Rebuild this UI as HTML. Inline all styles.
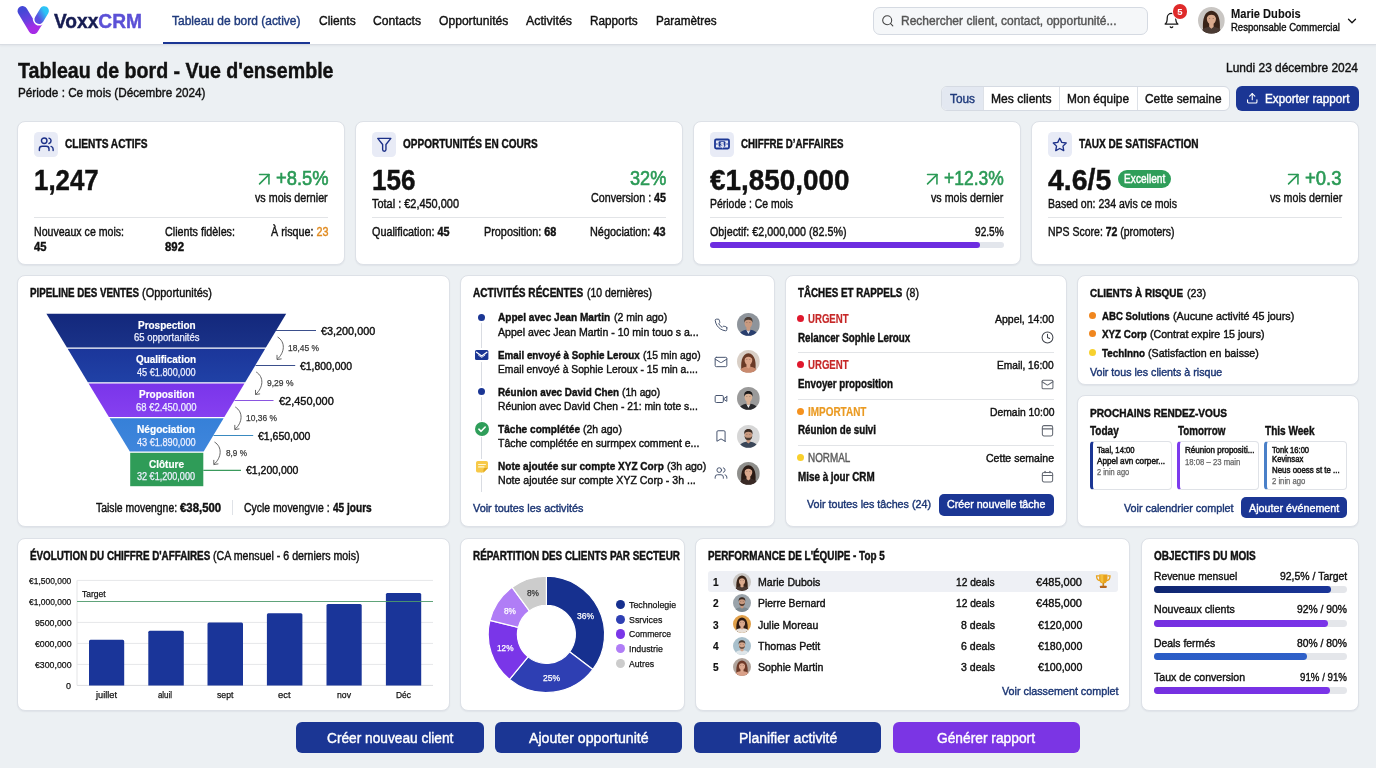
<!DOCTYPE html>
<html lang="fr">
<head>
<meta charset="utf-8">
<title>VoxxCRM - Tableau de bord</title>
<meta name="viewport" content="width=1376">
<style>
*{box-sizing:border-box;margin:0;padding:0}
html,body{width:1376px;height:768px;overflow:hidden}
body{position:relative;background:#ecf0f3;font-family:"Liberation Sans",Arial,Helvetica,sans-serif;color:#111;-webkit-font-smoothing:antialiased}
.b,.t,.card,.sec,header,nav,main,section,footer,.btn,.row{position:absolute}
.t{white-space:nowrap;line-height:1;transform-origin:0 0;display:block;font-weight:400;-webkit-text-stroke:.42px currentColor}
.t b{font-weight:700}
.card{background:#fff;border:1px solid #dde1e7;border-radius:8px;box-shadow:0 1px 1.500px rgba(30,40,70,.06)}
.btn{border-radius:6px;background:#1b3694}
svg{display:block;overflow:visible}
a{color:inherit;text-decoration:none}
</style>
</head>
<body>
<header class="" style="left:0px;top:0px;width:1376px;height:45px;background:#fff;border-bottom:1px solid #d9dde3;box-shadow:0 1px 2px rgba(30,40,70,.06);">
<svg class="b" style="left:16.8px;top:4.9px;" width="34.3" height="31.2" viewBox="0 0 33 30"><defs><linearGradient id="lg1" x1="0" y1="0" x2="0.35" y2="1"><stop offset="0" stop-color="#4547d6"/><stop offset="0.55" stop-color="#6a3fe0"/><stop offset="1" stop-color="#a52be6"/></linearGradient><linearGradient id="lg2" x1="1" y1="0" x2="0" y2="1"><stop offset="0" stop-color="#2cc4f6"/><stop offset="1" stop-color="#5a4fe0"/></linearGradient></defs><path d="M5.300 5.800 L15.800 23.200 L21.500 14" fill="none" stroke="url(#lg1)" stroke-width="9.600" stroke-linecap="round" stroke-linejoin="round"/><path d="M26.200 5.600 L21.300 13.800" fill="none" stroke="#fff" stroke-width="12" stroke-linecap="round"/><path d="M26.200 5.600 L21.300 13.800" fill="none" stroke="url(#lg2)" stroke-width="9" stroke-linecap="round"/></svg>
<div class="t" id="t1" style="left:54.2px;top:10.5px;transform:scaleX(0.9578);font-size:20px;font-weight:700;"><b style="color:#161c52;">Voxx</b><b style="color:#5b50d6;">CRM</b></div>
<nav class="" style="left:160px;top:0px;width:570px;height:44px;">
<a class="t" id="t2" style="left:12px;top:14.2px;transform:scaleX(0.9213);font-size:13px;color:#1f3a7c;">Tableau de bord (active)</a>
<a class="t" id="t3" style="left:158.8px;top:14.2px;transform:scaleX(0.9233);font-size:13px;">Clients</a>
<a class="t" id="t4" style="left:213px;top:14.2px;transform:scaleX(0.9354);font-size:13px;">Contacts</a>
<a class="t" id="t5" style="left:279px;top:14.2px;transform:scaleX(0.931);font-size:13px;">Opportunités</a>
<a class="t" id="t6" style="left:366.3px;top:14.2px;transform:scaleX(0.9503);font-size:13px;">Activités</a>
<a class="t" id="t7" style="left:430.3px;top:14.2px;transform:scaleX(0.9043);font-size:13px;">Rapports</a>
<a class="t" id="t8" style="left:496px;top:14.2px;transform:scaleX(0.9003);font-size:13px;">Paramètres</a>
<div class="b" style="left:3px;top:42px;width:147px;height:2px;background:#1b3694;"></div>
</nav>
<div class="b" style="left:873px;top:7px;width:274.5px;height:27.5px;background:#f5f7f9;border:1px solid #d5dae2;border-radius:7px;">
<svg class="b" style="left:6.85px;top:5.55px;" width="13.5" height="13.5" viewBox="0 0 24 24"><g fill="none" stroke="#444" stroke-width="1.9" stroke-linecap="round" stroke-linejoin="round"><circle cx="11" cy="11" r="8"/><path d="m21 21-4.3-4.3"/></g></svg>
<span class="t" id="t9" style="left:27px;top:6px;transform:scaleX(0.9233);font-size:13px;color:#555;">Rechercher client, contact, opportunité...</span>
</div>
<svg class="b" style="left:1162.9px;top:12.1px;" width="17" height="17" viewBox="0 0 24 24"><g fill="none" stroke="#1a1a1a" stroke-width="1.8" stroke-linecap="round" stroke-linejoin="round"><path d="M6 8a6 6 0 0 1 12 0c0 7 3 9 3 9H3s3-2 3-9"/><path d="M10.3 21a1.94 1.94 0 0 0 3.4 0"/></g></svg>
<div class="b" style="left:1172.6px;top:3.9px;width:14.8px;height:14.8px;background:#df2a2a;border-radius:50%;box-shadow:0 0 0 1px #fff;"></div>
<span class="t" id="t10" style="left:1177.35px;top:6.8px;font-size:9.5px;font-weight:700;color:#fff;-webkit-text-stroke:0;">5</span>
<svg class="b" style="left:1197.6px;top:7px;" width="26.8" height="26.8" viewBox="0 0 24 24"><defs><clipPath id="ch"><circle cx="12" cy="12" r="12"/></clipPath><radialGradient id="gh" cx="0.5" cy="0.4" r="0.7"><stop offset="0" stop-color="#c9c6c3"/><stop offset="1" stop-color="#c9c6c3"/></radialGradient></defs><g clip-path="url(#ch)"><rect width="24" height="24" fill="url(#gh)"/><path d="M4.800 23C3.600 14 4.600 4 12 3.400C19.400 4 20.400 14 19.200 23Z" fill="#3a2418"/><path d="M2 25c0-5.500 4.500-7.400 10-7.400s10 1.900 10 7.400z" fill="#4a3a33"/><path d="M10 14.500h4v3.300l-2 1.700-2-1.700z" fill="#d9a98c"/><ellipse cx="12" cy="10.600" rx="4.100" ry="5.100" fill="#d9a98c"/><path d="M7.500 11C7.300 6.500 9.200 4.800 12 4.800S16.700 6.500 16.500 11C16 8.200 14.300 7 12 7S8 8.200 7.500 11Z" fill="#3a2418"/><ellipse cx="10.400" cy="10.200" rx="0.550" ry="0.400" fill="#3a2a24" opacity="0.700"/><ellipse cx="13.600" cy="10.200" rx="0.550" ry="0.400" fill="#3a2a24" opacity="0.700"/></g></svg>
<span class="t" id="t11" style="left:1231.3px;top:6.8px;transform:scaleX(0.8539);font-size:13px;font-weight:700;-webkit-text-stroke:.1px currentColor;">Marie Dubois</span>
<span class="t" id="t12" style="left:1231.3px;top:21.8px;transform:scaleX(0.8646);font-size:11px;">Responsable Commercial</span>
<svg class="b" style="left:1344.8px;top:13.5px;" width="14" height="14" viewBox="0 0 24 24"><g fill="none" stroke="#111" stroke-width="2.2" stroke-linecap="round" stroke-linejoin="round"><path d="m6 9 6 6 6-6"/></g></svg>
</header>
<main class="" style="left:0px;top:45px;width:1376px;height:671px;">
<section class="sec" style="left:0px;top:0px;width:1376px;height:77px;">
<h1 class="t" id="t13" style="left:17.5px;top:15.5px;transform:scaleX(0.9129);font-size:21.5px;font-weight:700;">Tableau de bord - Vue d'ensemble</h1>
<span class="t" id="t14" style="left:17.5px;top:40.8px;transform:scaleX(0.901);font-size:13px;">Période : Ce mois (Décembre 2024)</span>
<span class="t" id="t15" style="left:1226.2px;top:16px;transform:scaleX(0.9177);font-size:13px;">Lundi 23 décembre 2024</span>
<div class="b" style="left:941px;top:41px;width:289px;height:24.5px;background:#fff;border:1px solid #d5dae2;border-radius:6px;overflow:hidden;">
<div class="b" style="left:-1px;top:-1px;width:42.5px;height:24.5px;background:#e3e8f1;"></div>
<div class="b" style="left:41px;top:-1px;width:1px;height:24.5px;background:#dde1e7;"></div>
<div class="b" style="left:116.5px;top:-1px;width:1px;height:24.5px;background:#dde1e7;"></div>
<div class="b" style="left:194.5px;top:-1px;width:1px;height:24.5px;background:#dde1e7;"></div>
<span class="t" id="t16" style="left:8px;top:5px;transform:scaleX(0.9101);font-size:13px;color:#1f3a7c;">Tous</span>
<span class="t" id="t17" style="left:49px;top:5px;transform:scaleX(0.9303);font-size:13px;">Mes clients</span>
<span class="t" id="t18" style="left:125px;top:5px;transform:scaleX(0.9124);font-size:13px;">Mon équipe</span>
<span class="t" id="t19" style="left:203px;top:5px;transform:scaleX(0.9126);font-size:13px;">Cette semaine</span>
</div>
<div class="btn" style="left:1236px;top:41px;width:122.5px;height:24.5px;">
<svg class="b" style="left:9.75px;top:5.55px;" width="12.5" height="12.5" viewBox="0 0 24 24"><g fill="none" stroke="#fff" stroke-width="2.1" stroke-linecap="round" stroke-linejoin="round"><path d="M21 15v4a2 2 0 0 1-2 2H5a2 2 0 0 1-2-2v-4"/><polyline points="17 8 12 3 7 8"/><line x1="12" x2="12" y1="3" y2="15"/></g></svg>
<span class="t" id="t20" style="left:29px;top:6px;transform:scaleX(0.8995);font-size:13px;color:#fff;">Exporter rapport</span>
</div>
</section>
<section class="sec" style="left:0px;top:77px;width:1376px;height:143px;">
<article class="card" style="left:17.25px;top:-0.75px;width:327.25px;height:143.25px;">
<div class="b" style="left:15.55px;top:9.55px;width:24.5px;height:24.8px;background:#e8ebf6;border-radius:4.500px;"></div>
<h2 class="t" id="t21" style="left:46.45px;top:15.95px;transform:scaleX(0.8118);font-size:12.5px;font-weight:700;">CLIENTS ACTIFS</h2>
<span class="t" id="t22" style="left:16.05px;top:43.55px;transform:scaleX(0.8915);font-size:29px;font-weight:700;">1,247</span>
<div class="b" style="left:15.75px;top:94.75px;width:294px;height:1px;background:#e2e4e7;"></div>
<svg class="b" style="left:19.4px;top:13.9px;" width="16.5" height="16.5" viewBox="0 0 24 24"><g fill="none" stroke="#1c3088" stroke-width="2.1" stroke-linecap="round" stroke-linejoin="round"><path d="M16 21v-2a4 4 0 0 0-4-4H6a4 4 0 0 0-4 4v2"/><circle cx="9" cy="7" r="4"/><path d="M22 21v-2a4 4 0 0 0-3-3.87"/><path d="M16 3.13a4 4 0 0 1 0 7.75"/></g></svg>
<span class="t" id="t23" style="left:257.25px;top:47.05px;transform:scaleX(0.9401);font-size:19.5px;color:#2b9a56;-webkit-text-stroke:.6px currentColor;">+8.5%</span>
<svg class="b" style="left:234.7px;top:45.6px;" width="22.5" height="22.5" viewBox="0 0 24 24"><g fill="none" stroke="#2b9a56" stroke-width="1.7" stroke-linecap="round" stroke-linejoin="round"><path d="M7 7h10v10"/><path d="M7 17 17 7"/></g></svg>
<span class="t" id="t24" style="left:237.05px;top:68.25px;transform:scaleX(0.8248);font-size:13px;">vs mois dernier</span>
<span class="t" id="t25" style="left:15.75px;top:103.65px;transform:scaleX(0.8466);font-size:12.5px;">Nouveaux ce mois:</span>
<span class="t" id="t26" style="left:15.75px;top:118.35px;transform:scaleX(0.8989);font-size:12.5px;font-weight:700;">45</span>
<span class="t" id="t27" style="left:146.75px;top:103.65px;transform:scaleX(0.861);font-size:12.5px;">Clients fidèles:</span>
<span class="t" id="t28" style="left:146.75px;top:118.35px;transform:scaleX(0.9109);font-size:12.5px;font-weight:700;">892</span>
<span class="t" id="t29" style="left:252.25px;top:103.65px;transform:scaleX(0.8618);font-size:12.5px;">À risque: <span style="color:#e08a1e;">23</span></span>
</article>
<article class="card" style="left:355.25px;top:-0.75px;width:327.25px;height:143.25px;">
<div class="b" style="left:15.55px;top:9.55px;width:24.5px;height:24.8px;background:#e8ebf6;border-radius:4.500px;"></div>
<h2 class="t" id="t30" style="left:46.45px;top:15.95px;transform:scaleX(0.8008);font-size:12.5px;font-weight:700;">OPPORTUNITÉS EN COURS</h2>
<span class="t" id="t31" style="left:16.05px;top:43.55px;transform:scaleX(0.8989);font-size:29px;font-weight:700;">156</span>
<div class="b" style="left:15.75px;top:94.75px;width:294px;height:1px;background:#e2e4e7;"></div>
<svg class="b" style="left:19.75px;top:14.05px;" width="16.6" height="16.6" viewBox="0 0 24 24"><g fill="none" stroke="#1c3088" stroke-width="2" stroke-linecap="round" stroke-linejoin="round"><path d="M2.500 3.500H21.500L14.400 12.300V19.600A2.400 2.400 0 0 1 9.600 19.600V12.300Z"/></g></svg>
<span class="t" id="t32" style="left:273.25px;top:47.05px;transform:scaleX(0.93);font-size:19.5px;color:#2b9a56;-webkit-text-stroke:.6px currentColor;">32%</span>
<span class="t" id="t33" style="left:16.05px;top:75.75px;transform:scaleX(0.8753);font-size:12.5px;">Total : €2,450,000</span>
<span class="t" id="t34" style="left:234.55px;top:68.55px;transform:scaleX(0.8236);font-size:13px;">Conversion : <b>45</b></span>
<span class="t" id="t35" style="left:16.05px;top:103.65px;transform:scaleX(0.8646);font-size:12.5px;">Qualification: <b>45</b></span>
<span class="t" id="t36" style="left:127.75px;top:103.65px;transform:scaleX(0.867);font-size:12.5px;">Proposition: <b>68</b></span>
<span class="t" id="t37" style="left:234.05px;top:103.65px;transform:scaleX(0.8691);font-size:12.5px;">Négociation: <b>43</b></span>
</article>
<article class="card" style="left:693.25px;top:-0.75px;width:327.25px;height:143.25px;">
<div class="b" style="left:15.55px;top:9.55px;width:24.5px;height:24.8px;background:#e8ebf6;border-radius:4.500px;"></div>
<h2 class="t" id="t38" style="left:46.45px;top:15.95px;transform:scaleX(0.7768);font-size:12.5px;font-weight:700;">CHIFFRE D’AFFAIRES</h2>
<span class="t" id="t39" style="left:16.05px;top:43.55px;transform:scaleX(0.961);font-size:29px;font-weight:700;">€1,850,000</span>
<div class="b" style="left:15.75px;top:94.75px;width:294px;height:1px;background:#e2e4e7;"></div>
<svg class="b" style="left:20.05px;top:16.05px;" width="16" height="12" viewBox="0 0 16 12"><rect x="1" y="1.500" width="14" height="9" rx="1.200" fill="none" stroke="#1b3694" stroke-width="1.800"/><rect x="4.600" y="3.200" width="6.800" height="5.600" rx="1" fill="#1b3694"/><circle cx="2.900" cy="6" r="0.700" fill="#1b3694"/><circle cx="13.100" cy="6" r="0.700" fill="#1b3694"/></svg>
<span class="t" id="t40" style="left:26.24px;top:19.85px;font-size:6.5px;font-weight:700;color:#e8ebf6;-webkit-text-stroke:.25px currentColor;">$</span>
<span class="t" id="t41" style="left:249.25px;top:47.05px;transform:scaleX(0.8967);font-size:19.5px;color:#2b9a56;-webkit-text-stroke:.6px currentColor;">+12.3%</span>
<svg class="b" style="left:226.7px;top:45.6px;" width="22.5" height="22.5" viewBox="0 0 24 24"><g fill="none" stroke="#2b9a56" stroke-width="1.7" stroke-linecap="round" stroke-linejoin="round"><path d="M7 7h10v10"/><path d="M7 17 17 7"/></g></svg>
<span class="t" id="t42" style="left:236.95px;top:68.25px;transform:scaleX(0.8203);font-size:13px;">vs mois dernier</span>
<span class="t" id="t43" style="left:16.05px;top:75.75px;transform:scaleX(0.8354);font-size:12.5px;">Période : Ce mois</span>
<span class="t" id="t44" style="left:16.05px;top:103.65px;transform:scaleX(0.8578);font-size:12.5px;">Objectif: €2,000,000 (82.5%)</span>
<span class="t" id="t45" style="left:280.45px;top:103.65px;transform:scaleX(0.8123);font-size:12.5px;">92.5%</span>
<div class="b" style="left:15.75px;top:119.75px;width:294px;height:6px;background:#e3e6ec;border-radius:3px;">
<div class="b" style="left:0px;top:0px;width:270px;height:6px;background:#6d2de0;border-radius:3px;"></div>
</div>
</article>
<article class="card" style="left:1031.25px;top:-0.75px;width:327.25px;height:143.25px;">
<div class="b" style="left:15.55px;top:9.55px;width:24.5px;height:24.8px;background:#e8ebf6;border-radius:4.500px;"></div>
<h2 class="t" id="t46" style="left:46.45px;top:15.95px;transform:scaleX(0.8073);font-size:12.5px;font-weight:700;">TAUX DE SATISFACTION</h2>
<span class="t" id="t47" style="left:16.05px;top:43.55px;transform:scaleX(0.9798);font-size:29px;font-weight:700;">4.6/5</span>
<div class="b" style="left:15.75px;top:94.75px;width:294px;height:1px;background:#e2e4e7;"></div>
<svg class="b" style="left:20px;top:14.3px;" width="15.5" height="15.5" viewBox="0 0 24 24"><g fill="none" stroke="#1c3088" stroke-width="2.1" stroke-linecap="round" stroke-linejoin="round"><polygon points="12 2 15.09 8.26 22 9.27 17 14.14 18.18 21.02 12 17.77 5.82 21.02 7 14.14 2 9.27 8.91 8.26 12 2"/></g></svg>
<div class="b" style="left:86.05px;top:48.05px;width:53px;height:17.5px;background:#2f9e5a;border-radius:9px;">
<span class="t" id="t48" style="left:5.7px;top:2.9px;transform:scaleX(0.848);font-size:12px;color:#fff;">Excellent</span>
</div>
<span class="t" id="t49" style="left:16.05px;top:75.75px;transform:scaleX(0.8438);font-size:12.5px;">Based on: 234 avis ce mois</span>
<span class="t" id="t50" style="left:272.75px;top:47.05px;transform:scaleX(0.9481);font-size:19.5px;color:#2b9a56;-webkit-text-stroke:.6px currentColor;">+0.3</span>
<svg class="b" style="left:250.2px;top:45.6px;" width="22.5" height="22.5" viewBox="0 0 24 24"><g fill="none" stroke="#2b9a56" stroke-width="1.7" stroke-linecap="round" stroke-linejoin="round"><path d="M7 7h10v10"/><path d="M7 17 17 7"/></g></svg>
<span class="t" id="t51" style="left:237.35px;top:68.25px;transform:scaleX(0.8191);font-size:13px;">vs mois dernier</span>
<span class="t" id="t52" style="left:16.05px;top:103.65px;transform:scaleX(0.8391);font-size:12.5px;">NPS Score: <b>72</b> (promoters)</span>
</article>
</section>
<section class="card" style="left:17.25px;top:230.25px;width:432.25px;height:251.25px;">
<h2 class="t" id="t53" style="left:11.25px;top:10.75px;transform:scaleX(0.8139);font-size:12px;font-weight:700;">PIPELINE DES VENTES</h2>
<span class="t" id="t54" style="left:123.75px;top:10.75px;transform:scaleX(0.9126);font-size:12px;">(Opportunités)</span>
<svg class="b" style="left:21.75px;top:33.75px;" width="290" height="180" viewBox="0 0 290 180"><defs><linearGradient id="fg0" x1="0" y1="0" x2="0" y2="1"><stop offset="0" stop-color="#13287c"/><stop offset="1" stop-color="#1a3288"/></linearGradient><linearGradient id="fg1" x1="0" y1="0" x2="0" y2="1"><stop offset="0" stop-color="#1b369a"/><stop offset="1" stop-color="#2041a6"/></linearGradient><linearGradient id="fg2" x1="0" y1="0" x2="0" y2="1"><stop offset="0" stop-color="#7a35ea"/><stop offset="1" stop-color="#8640f0"/></linearGradient><linearGradient id="fg3" x1="0" y1="0" x2="0" y2="1"><stop offset="0" stop-color="#3680d8"/><stop offset="1" stop-color="#3f86dc"/></linearGradient></defs><polygon points="6.4,3.7 246.2,3.7 225.91,37.6 26.91,37.6" fill="url(#fg0)"/><polygon points="27.64,38.8 225.19,38.8 205.2,72.2 47.85,72.2" fill="url(#fg1)"/><polygon points="48.57,73.4 204.48,73.4 184.37,107 68.9,107" fill="url(#fg2)"/><polygon points="69.63,108.2 183.65,108.2 163.66,141.6 89.84,141.6" fill="url(#fg3)"/><rect x="90.2" y="142.8" width="73.1" height="33.4" fill="#2f9c58"/><line x1="236" y1="20.5" x2="276" y2="20.5" stroke="#3b4f8c" stroke-width="1.100"/><line x1="215.5" y1="55.5" x2="255.2" y2="55.5" stroke="#3b4f8c" stroke-width="1.100"/><line x1="194.5" y1="90.5" x2="233.5" y2="90.5" stroke="#8a55e0" stroke-width="1.100"/><line x1="173.5" y1="125.5" x2="213.2" y2="125.5" stroke="#3a8ac0" stroke-width="1.100"/><line x1="163.3" y1="160.4" x2="201" y2="160.4" stroke="#3a9a5c" stroke-width="1.100"/><path d="M237.6 27 C245.6 32 245 42.5 237 49.5" fill="none" stroke="#555" stroke-width="0.900"/><path d="M237 45.3 L237 49.5 L241.2 48.9" fill="none" stroke="#555" stroke-width="0.900" stroke-linecap="round" stroke-linejoin="round"/><path d="M216.2 62 C224.2 67 223.5 77.5 215.5 84.5" fill="none" stroke="#555" stroke-width="0.900"/><path d="M215.5 80.3 L215.5 84.5 L219.7 83.9" fill="none" stroke="#555" stroke-width="0.900" stroke-linecap="round" stroke-linejoin="round"/><path d="M195.3 97 C203.3 102 202.8 112.5 194.8 119.5" fill="none" stroke="#555" stroke-width="0.900"/><path d="M194.8 115.3 L194.8 119.5 L199 118.9" fill="none" stroke="#555" stroke-width="0.900" stroke-linecap="round" stroke-linejoin="round"/><path d="M174.5 132 C182.5 137 181.8 147.5 173.8 154.5" fill="none" stroke="#555" stroke-width="0.900"/><path d="M173.8 150.3 L173.8 154.5 L178 153.9" fill="none" stroke="#555" stroke-width="0.900" stroke-linecap="round" stroke-linejoin="round"/></svg>
<span class="t" id="t55" style="left:119.25px;top:43.45px;transform:scaleX(0.923);font-size:10.8px;font-weight:700;color:#fff;-webkit-text-stroke:.2px currentColor;">Prospection</span>
<span class="t" id="t56" style="left:115.3px;top:57.05px;transform:scaleX(0.9499);font-size:10px;color:#eef0ff;-webkit-text-stroke:.25px currentColor;">65 opportanités</span>
<span class="t" id="t57" style="left:118.05px;top:78.05px;transform:scaleX(0.9176);font-size:10.8px;font-weight:700;color:#fff;-webkit-text-stroke:.2px currentColor;">Qualification</span>
<span class="t" id="t58" style="left:118.75px;top:91.85px;transform:scaleX(0.9163);font-size:10px;color:#eef0ff;-webkit-text-stroke:.25px currentColor;">45 €1.800,000</span>
<span class="t" id="t59" style="left:120.3px;top:112.65px;transform:scaleX(0.9252);font-size:10.8px;font-weight:700;color:#fff;-webkit-text-stroke:.2px currentColor;">Proposition</span>
<span class="t" id="t60" style="left:117.8px;top:126.55px;transform:scaleX(0.946);font-size:10px;color:#eef0ff;-webkit-text-stroke:.25px currentColor;">68 €2.450.000</span>
<span class="t" id="t61" style="left:119.05px;top:147.55px;transform:scaleX(0.9386);font-size:10.8px;font-weight:700;color:#fff;-webkit-text-stroke:.2px currentColor;">Négociation</span>
<span class="t" id="t62" style="left:118.75px;top:161.45px;transform:scaleX(0.9163);font-size:10px;color:#eef0ff;-webkit-text-stroke:.25px currentColor;">43 €1.890,000</span>
<span class="t" id="t63" style="left:130.55px;top:182.25px;transform:scaleX(0.926);font-size:10.8px;font-weight:700;color:#fff;-webkit-text-stroke:.2px currentColor;">Clôture</span>
<span class="t" id="t64" style="left:119.05px;top:195.95px;transform:scaleX(0.9069);font-size:10px;color:#eef0ff;-webkit-text-stroke:.25px currentColor;">32 €1,200,000</span>
<span class="t" id="t65" style="left:302.75px;top:49.55px;transform:scaleX(0.9585);font-size:11.3px;">€3,200,000</span>
<span class="t" id="t66" style="left:269.75px;top:66.65px;transform:scaleX(0.8802);font-size:9.6px;color:#383838;-webkit-text-stroke:.25px currentColor;">18,45 %</span>
<span class="t" id="t67" style="left:281.75px;top:84.45px;transform:scaleX(0.9196);font-size:11.3px;">€1,800,000</span>
<span class="t" id="t68" style="left:248.75px;top:102.05px;transform:scaleX(0.887);font-size:9.6px;color:#383838;-webkit-text-stroke:.25px currentColor;">9,29 %</span>
<span class="t" id="t69" style="left:260.35px;top:119.35px;transform:scaleX(0.9691);font-size:11.3px;">€2,450,000</span>
<span class="t" id="t70" style="left:227.75px;top:136.95px;transform:scaleX(0.8802);font-size:9.6px;color:#383838;-webkit-text-stroke:.25px currentColor;">10,36 %</span>
<span class="t" id="t71" style="left:239.75px;top:154.25px;transform:scaleX(0.9267);font-size:11.3px;">€1,650,000</span>
<span class="t" id="t72" style="left:207.25px;top:172.15px;transform:scaleX(0.8555);font-size:9.6px;color:#383838;-webkit-text-stroke:.25px currentColor;">8,9 %</span>
<span class="t" id="t73" style="left:227.55px;top:188.95px;transform:scaleX(0.9267);font-size:11.3px;">€1,200,000</span>
<span class="t" id="t74" style="left:77.25px;top:225.45px;transform:scaleX(0.8337);font-size:12.5px;">Taisle movengne:</span>
<b class="t" id="t75" style="left:162.15px;top:225.45px;transform:scaleX(0.9095);font-size:12.5px;font-weight:700;">€38,500</b>
<div class="b" style="left:214.05px;top:223.75px;width:1px;height:14.5px;background:#dfe2e7;"></div>
<span class="t" id="t76" style="left:225.45px;top:225.45px;transform:scaleX(0.8334);font-size:12.5px;">Cycle movengvıe :</span>
<b class="t" id="t77" style="left:314.55px;top:225.45px;transform:scaleX(0.8073);font-size:12.5px;font-weight:700;">45 jours</b>
</section>
<section class="card" style="left:460.25px;top:230.25px;width:314.45px;height:251.25px;">
<h2 class="t" id="t78" style="left:11.75px;top:10.75px;transform:scaleX(0.8389);font-size:12px;font-weight:700;">ACTIVITÉS RÉCENTES</h2>
<span class="t" id="t79" style="left:125.45px;top:10.75px;transform:scaleX(0.8688);font-size:12px;">(10 dernières)</span>
<div class="b" style="left:19.75px;top:46.75px;width:1px;height:169px;background:#d9dce2;"></div>
<div class="row" style="left:8.75px;top:33.35px;width:295px;height:30px;">
<div class="b" style="left:8.1px;top:4.2px;width:7px;height:7px;background:#1b3694;border-radius:50%;box-shadow:0 0 0 2px #fff;"></div>
<b class="t" id="t80" style="left:28.2px;top:1.9px;transform:scaleX(0.8636);font-size:11.7px;font-weight:700;">Appel avec Jean Martin</b>
<span class="t" id="t81" style="left:143.5px;top:1.9px;transform:scaleX(0.8998);font-size:11.7px;">(2 min ago)</span>
<span class="t" id="t82" style="left:28.2px;top:16px;transform:scaleX(0.9028);font-size:11.7px;">Appel avec Jean Martin - 10 min touo s a...</span>
<svg class="b" style="left:243.6px;top:8.2px;" width="14" height="14" viewBox="0 0 24 24"><g fill="none" stroke="#46536e" stroke-width="1.7" stroke-linecap="round" stroke-linejoin="round"><path d="M22 16.92v3a2 2 0 0 1-2.18 2 19.79 19.79 0 0 1-8.63-3.07 19.5 19.5 0 0 1-6-6 19.79 19.79 0 0 1-3.07-8.67A2 2 0 0 1 4.11 2h3a2 2 0 0 1 2 1.72 12.84 12.84 0 0 0 .7 2.81 2 2 0 0 1-.45 2.11L8.09 9.91a16 16 0 0 0 6 6l1.27-1.27a2 2 0 0 1 2.11-.45 12.84 12.84 0 0 0 2.81.7A2 2 0 0 1 22 16.92z"/></g></svg>
<svg class="b" style="left:267px;top:3.6px;" width="22.8" height="22.8" viewBox="0 0 24 24"><defs><clipPath id="ca0"><circle cx="12" cy="12" r="12"/></clipPath><radialGradient id="ga0" cx="0.5" cy="0.4" r="0.7"><stop offset="0" stop-color="#8e949b"/><stop offset="1" stop-color="#8e949b"/></radialGradient></defs><g clip-path="url(#ca0)"><rect width="24" height="24" fill="url(#ga0)"/><path d="M2 25c0-5.500 4.500-7.400 10-7.400s10 1.900 10 7.400z" fill="#2a3f6e"/><path d="M10 14.500h4v3.300l-2 1.700-2-1.700z" fill="#c99a80"/><path d="M9.800 17.800 12 22 14.200 17.800 12 19.300z" fill="#e9e9ee"/><ellipse cx="12" cy="10.600" rx="4.100" ry="5.100" fill="#c99a80"/><path d="M7.700 10.200C7 5.600 9.300 4.200 12 4.200S17 5.600 16.300 10.200C16 8 14.600 7 12 7S8 8 7.700 10.200Z" fill="#4a3b33"/><ellipse cx="10.400" cy="10.200" rx="0.550" ry="0.400" fill="#3a2a24" opacity="0.700"/><ellipse cx="13.600" cy="10.200" rx="0.550" ry="0.400" fill="#3a2a24" opacity="0.700"/></g></svg>
</div>
<div class="row" style="left:8.75px;top:70.5px;width:295px;height:30px;">
<svg class="b" style="left:5px;top:2.9px;box-shadow:0 0 0 2px #fff;" width="13.3" height="10" viewBox="0 0 13.3 10"><rect width="13.400" height="10" rx="1.500" fill="#1b3694"/><path d="M1.500 2.300 6.700 6 11.900 2.300" fill="none" stroke="#fff" stroke-width="1.300" stroke-linecap="round" stroke-linejoin="round"/><path d="M3.500 5.200 6.700 7.400 9.900 5.200" fill="none" stroke="#fff" stroke-width="0.900" stroke-linecap="round" stroke-linejoin="round" opacity="0.900"/></svg>
<b class="t" id="t83" style="left:28.2px;top:1.9px;transform:scaleX(0.8396);font-size:11.7px;font-weight:700;">Email envoyé à Sophie Leroux</b>
<span class="t" id="t84" style="left:173.1px;top:1.9px;transform:scaleX(0.8792);font-size:11.7px;">(15 min ago)</span>
<span class="t" id="t85" style="left:28.2px;top:16px;transform:scaleX(0.8812);font-size:11.7px;">Email envoyé à Sophie Leroux - 15 min a....</span>
<svg class="b" style="left:243.6px;top:8.2px;" width="14" height="14" viewBox="0 0 24 24"><g fill="none" stroke="#46536e" stroke-width="1.7" stroke-linecap="round" stroke-linejoin="round"><rect width="20" height="16" x="2" y="4" rx="2"/><path d="m22 7-8.97 5.7a1.94 1.94 0 0 1-2.06 0L2 7"/></g></svg>
<svg class="b" style="left:267px;top:3.6px;" width="22.8" height="22.8" viewBox="0 0 24 24"><defs><clipPath id="ca1"><circle cx="12" cy="12" r="12"/></clipPath><radialGradient id="ga1" cx="0.5" cy="0.4" r="0.7"><stop offset="0" stop-color="#d9cfc6"/><stop offset="1" stop-color="#d9cfc6"/></radialGradient></defs><g clip-path="url(#ca1)"><rect width="24" height="24" fill="url(#ga1)"/><path d="M4.800 23C3.600 14 4.600 4 12 3.400C19.400 4 20.400 14 19.200 23Z" fill="#6a3a26"/><path d="M2 25c0-5.500 4.500-7.400 10-7.400s10 1.900 10 7.400z" fill="#c98a6e"/><path d="M10 14.500h4v3.300l-2 1.700-2-1.700z" fill="#dca58a"/><ellipse cx="12" cy="10.600" rx="4.100" ry="5.100" fill="#dca58a"/><path d="M7.500 11C7.300 6.500 9.200 4.800 12 4.800S16.700 6.500 16.500 11C16 8.200 14.300 7 12 7S8 8.200 7.500 11Z" fill="#6a3a26"/><ellipse cx="10.400" cy="10.200" rx="0.550" ry="0.400" fill="#3a2a24" opacity="0.700"/><ellipse cx="13.600" cy="10.200" rx="0.550" ry="0.400" fill="#3a2a24" opacity="0.700"/></g></svg>
</div>
<div class="row" style="left:8.75px;top:107.65px;width:295px;height:30px;">
<div class="b" style="left:8.1px;top:4.2px;width:7px;height:7px;background:#1b3694;border-radius:50%;box-shadow:0 0 0 2px #fff;"></div>
<b class="t" id="t86" style="left:28.2px;top:1.9px;transform:scaleX(0.8436);font-size:11.7px;font-weight:700;">Réunion avec David Chen</b>
<span class="t" id="t87" style="left:152.4px;top:1.9px;transform:scaleX(0.8772);font-size:11.7px;">(1h ago)</span>
<span class="t" id="t88" style="left:28.2px;top:16px;transform:scaleX(0.8838);font-size:11.7px;">Réunion avec David Chen - 21: min tote s...</span>
<svg class="b" style="left:243.6px;top:8.2px;" width="14" height="14" viewBox="0 0 24 24"><g fill="none" stroke="#46536e" stroke-width="1.7" stroke-linecap="round" stroke-linejoin="round"><path d="m22 8-6 4 6 4V8Z"/><rect width="14" height="12" x="2" y="6" rx="2" ry="2"/></g></svg>
<svg class="b" style="left:267px;top:3.6px;" width="22.8" height="22.8" viewBox="0 0 24 24"><defs><clipPath id="ca2"><circle cx="12" cy="12" r="12"/></clipPath><radialGradient id="ga2" cx="0.5" cy="0.4" r="0.7"><stop offset="0" stop-color="#9a9a9a"/><stop offset="1" stop-color="#9a9a9a"/></radialGradient></defs><g clip-path="url(#ca2)"><rect width="24" height="24" fill="url(#ga2)"/><path d="M2 25c0-5.500 4.500-7.400 10-7.400s10 1.900 10 7.400z" fill="#2b2b2f"/><path d="M10 14.500h4v3.300l-2 1.700-2-1.700z" fill="#d8b094"/><path d="M9.800 17.800 12 22 14.200 17.800 12 19.300z" fill="#f2f2f2"/><ellipse cx="12" cy="10.600" rx="4.100" ry="5.100" fill="#d8b094"/><path d="M7.700 10.200C7 5.600 9.300 4.200 12 4.200S17 5.600 16.300 10.200C16 8 14.600 7 12 7S8 8 7.700 10.200Z" fill="#1c1a1a"/><ellipse cx="10.400" cy="10.200" rx="0.550" ry="0.400" fill="#3a2a24" opacity="0.700"/><ellipse cx="13.600" cy="10.200" rx="0.550" ry="0.400" fill="#3a2a24" opacity="0.700"/></g></svg>
</div>
<div class="row" style="left:8.75px;top:144.8px;width:295px;height:30px;">
<svg class="b" style="left:4.6px;top:1.25px;box-shadow:0 0 0 1px #fff;border-radius:50%;" width="14" height="14" viewBox="0 0 14 14"><circle cx="7" cy="7" r="7" fill="#2f9e5a"/><path d="M3.900 7.200 6.100 9.300 10.200 5" fill="none" stroke="#fff" stroke-width="1.600" stroke-linecap="round" stroke-linejoin="round"/></svg>
<b class="t" id="t89" style="left:28.2px;top:1.9px;transform:scaleX(0.8656);font-size:11.7px;font-weight:700;">Tâche complétée</b>
<span class="t" id="t90" style="left:113.4px;top:1.9px;transform:scaleX(0.8933);font-size:11.7px;">(2h ago)</span>
<span class="t" id="t91" style="left:28.2px;top:16px;transform:scaleX(0.8956);font-size:11.7px;">Tâche complétée en surmpex comment e...</span>
<svg class="b" style="left:243.6px;top:8.2px;" width="14" height="14" viewBox="0 0 24 24"><g fill="none" stroke="#46536e" stroke-width="1.7" stroke-linecap="round" stroke-linejoin="round"><path d="m19 21-7-4-7 4V5a2 2 0 0 1 2-2h10a2 2 0 0 1 2 2v16z"/></g></svg>
<svg class="b" style="left:267px;top:3.6px;" width="22.8" height="22.8" viewBox="0 0 24 24"><defs><clipPath id="ca3"><circle cx="12" cy="12" r="12"/></clipPath><radialGradient id="ga3" cx="0.5" cy="0.4" r="0.7"><stop offset="0" stop-color="#d6d6d6"/><stop offset="1" stop-color="#d6d6d6"/></radialGradient></defs><g clip-path="url(#ca3)"><rect width="24" height="24" fill="url(#ga3)"/><path d="M2 25c0-5.500 4.500-7.400 10-7.400s10 1.900 10 7.400z" fill="#3a4658"/><path d="M10 14.500h4v3.300l-2 1.700-2-1.700z" fill="#c99a80"/><ellipse cx="12" cy="10.600" rx="4.100" ry="5.100" fill="#c99a80"/><path d="M7.700 10.200C7 5.600 9.300 4.200 12 4.200S17 5.600 16.300 10.200C16 8 14.600 7 12 7S8 8 7.700 10.200Z" fill="#3a2a22"/><path d="M7.900 11C8.100 15 10 16 12 16S15.900 15 16.100 11C15.400 13.200 14 13.500 12 13.500S8.600 13.200 7.900 11Z" fill="#4a3a30"/><ellipse cx="10.400" cy="10.200" rx="0.550" ry="0.400" fill="#3a2a24" opacity="0.700"/><ellipse cx="13.600" cy="10.200" rx="0.550" ry="0.400" fill="#3a2a24" opacity="0.700"/></g></svg>
</div>
<div class="row" style="left:8.75px;top:181.95px;width:295px;height:30px;">
<svg class="b" style="left:5.5px;top:2.8px;box-shadow:0 0 0 2px #fff;" width="12" height="11.6" viewBox="0 0 12 11.6"><path d="M1.800 0H10.200A1.800 1.800 0 0 1 12 1.800V7L7.500 11.600H1.800A1.800 1.800 0 0 1 0 9.800V1.800A1.800 1.800 0 0 1 1.800 0Z" fill="#f7c948"/><path d="M2.600 3.500H9.400M2.600 5.900H8" stroke="#fff7d6" stroke-width="1.200" stroke-linecap="round"/><path d="M12 7H9A1.500 1.500 0 0 0 7.500 8.500V11.600Z" fill="#e0a820"/></svg>
<b class="t" id="t92" style="left:28.2px;top:1.9px;transform:scaleX(0.8596);font-size:11.7px;font-weight:700;">Note ajoutée sur compte XYZ Corp</b>
<span class="t" id="t93" style="left:197.1px;top:1.9px;transform:scaleX(0.9002);font-size:11.7px;">(3h ago)</span>
<span class="t" id="t94" style="left:28.2px;top:16px;transform:scaleX(0.9062);font-size:11.7px;">Note ajoutée sur compte XYZ Corp - 3h ...</span>
<svg class="b" style="left:243.6px;top:8.2px;" width="14" height="14" viewBox="0 0 24 24"><g fill="none" stroke="#46536e" stroke-width="1.7" stroke-linecap="round" stroke-linejoin="round"><path d="M16 21v-2a4 4 0 0 0-4-4H6a4 4 0 0 0-4 4v2"/><circle cx="9" cy="7" r="4"/><path d="M22 21v-2a4 4 0 0 0-3-3.87"/><path d="M16 3.13a4 4 0 0 1 0 7.75"/></g></svg>
<svg class="b" style="left:267px;top:3.6px;" width="22.8" height="22.8" viewBox="0 0 24 24"><defs><clipPath id="ca4"><circle cx="12" cy="12" r="12"/></clipPath><radialGradient id="ga4" cx="0.5" cy="0.4" r="0.7"><stop offset="0" stop-color="#8f8f8c"/><stop offset="1" stop-color="#8f8f8c"/></radialGradient></defs><g clip-path="url(#ca4)"><rect width="24" height="24" fill="url(#ga4)"/><path d="M4.800 23C3.600 14 4.600 4 12 3.400C19.400 4 20.400 14 19.200 23Z" fill="#2a1a14"/><path d="M2 25c0-5.500 4.500-7.400 10-7.400s10 1.900 10 7.400z" fill="#3a2a26"/><path d="M10 14.500h4v3.300l-2 1.700-2-1.700z" fill="#d9a78c"/><ellipse cx="12" cy="10.600" rx="4.100" ry="5.100" fill="#d9a78c"/><path d="M7.500 11C7.300 6.500 9.200 4.800 12 4.800S16.700 6.500 16.500 11C16 8.200 14.300 7 12 7S8 8.200 7.500 11Z" fill="#2a1a14"/><ellipse cx="10.400" cy="10.200" rx="0.550" ry="0.400" fill="#3a2a24" opacity="0.700"/><ellipse cx="13.600" cy="10.200" rx="0.550" ry="0.400" fill="#3a2a24" opacity="0.700"/></g></svg>
</div>
<a class="t" id="t95" style="left:11.55px;top:225.45px;transform:scaleX(0.9361);font-size:11.6px;color:#1c3674;">Voir toutes les activités</a>
</section>
<section class="card" style="left:785.25px;top:230.25px;width:281.55px;height:251.25px;">
<h2 class="t" id="t96" style="left:11.75px;top:10.75px;transform:scaleX(0.8155);font-size:12px;font-weight:700;">TÂCHES ET RAPPELS</h2>
<span class="t" id="t97" style="left:119.35px;top:10.75px;transform:scaleX(0.8792);font-size:12px;">(8)</span>
<div class="row" style="left:11.75px;top:32.75px;width:256px;height:46px;">
<div class="b" style="left:-0.7px;top:6.2px;width:7px;height:7px;background:#e0182d;border-radius:50%;"></div>
<span class="t" id="t98" style="left:10.4px;top:4px;transform:scaleX(0.7888);font-size:12.2px;font-weight:700;color:#c62828;-webkit-text-stroke:.2px currentColor;">URGENT</span>
<span class="t" id="t99" style="left:197px;top:5px;transform:scaleX(0.9223);font-size:11.4px;">Appel, 14:00</span>
<span class="t" id="t100" style="left:0px;top:22.8px;transform:scaleX(0.8048);font-size:12.2px;font-weight:700;">Relancer Sophie Leroux</span>
<svg class="b" style="left:243.3px;top:22.3px;" width="13" height="13" viewBox="0 0 24 24"><g fill="none" stroke="#3f434b" stroke-width="1.9" stroke-linecap="round" stroke-linejoin="round"><circle cx="12" cy="12" r="10"/><polyline points="12 6 12 12 16 14"/></g></svg>
<div class="b" style="left:0px;top:43.4px;width:256px;height:1px;background:#e2e4e7;"></div>
</div>
<div class="row" style="left:11.75px;top:79.05px;width:256px;height:46px;">
<div class="b" style="left:-0.7px;top:6.2px;width:7px;height:7px;background:#e0182d;border-radius:50%;"></div>
<span class="t" id="t101" style="left:10.4px;top:4px;transform:scaleX(0.7888);font-size:12.2px;font-weight:700;color:#c62828;-webkit-text-stroke:.2px currentColor;">URGENT</span>
<span class="t" id="t102" style="left:199.4px;top:5px;transform:scaleX(0.8938);font-size:11.4px;">Email, 16:00</span>
<span class="t" id="t103" style="left:0px;top:22.8px;transform:scaleX(0.8016);font-size:12.2px;font-weight:700;">Envoyer proposition</span>
<svg class="b" style="left:243.3px;top:22.3px;" width="13" height="13" viewBox="0 0 24 24"><g fill="none" stroke="#636872" stroke-width="1.9" stroke-linecap="round" stroke-linejoin="round"><rect width="20" height="16" x="2" y="4" rx="2"/><path d="m22 7-8.97 5.7a1.94 1.94 0 0 1-2.06 0L2 7"/></g></svg>
<div class="b" style="left:0px;top:43.4px;width:256px;height:1px;background:#e2e4e7;"></div>
</div>
<div class="row" style="left:11.75px;top:125.45px;width:256px;height:46px;">
<div class="b" style="left:-0.7px;top:6.2px;width:7px;height:7px;background:#f5921e;border-radius:50%;"></div>
<span class="t" id="t104" style="left:10.4px;top:4px;transform:scaleX(0.8162);font-size:12.2px;font-weight:700;color:#ea9a22;-webkit-text-stroke:.2px currentColor;">IMPORTANT</span>
<span class="t" id="t105" style="left:191.5px;top:5px;transform:scaleX(0.9095);font-size:11.4px;">Demain 10:00</span>
<span class="t" id="t106" style="left:0px;top:22.8px;transform:scaleX(0.7999);font-size:12.2px;font-weight:700;">Réunion de suivi</span>
<svg class="b" style="left:243.3px;top:22.3px;" width="13" height="13" viewBox="0 0 24 24"><g fill="none" stroke="#636872" stroke-width="1.9" stroke-linecap="round" stroke-linejoin="round"><rect width="19" height="19" x="2.500" y="3" rx="3" ry="3"/><line x1="2.500" x2="21.500" y1="9" y2="9"/></g></svg>
<div class="b" style="left:0px;top:43.4px;width:256px;height:1px;background:#e2e4e7;"></div>
</div>
<div class="row" style="left:11.75px;top:171.75px;width:256px;height:46px;">
<div class="b" style="left:-0.7px;top:6.2px;width:7px;height:7px;background:#f9d02c;border-radius:50%;"></div>
<span class="t" id="t107" style="left:10.4px;top:4px;transform:scaleX(0.811);font-size:12.2px;color:#5c5c5c;">NORMAL</span>
<span class="t" id="t108" style="left:188px;top:5px;transform:scaleX(0.9258);font-size:11.4px;">Cette semaine</span>
<span class="t" id="t109" style="left:0px;top:22.8px;transform:scaleX(0.8079);font-size:12.2px;font-weight:700;">Mise à jour CRM</span>
<svg class="b" style="left:243.3px;top:22.3px;" width="13" height="13" viewBox="0 0 24 24"><g fill="none" stroke="#636872" stroke-width="1.9" stroke-linecap="round" stroke-linejoin="round"><rect width="19" height="17.500" x="2.500" y="4.500" rx="3" ry="3"/><line x1="2.500" x2="21.500" y1="10" y2="10"/><line x1="7.500" x2="7.500" y1="2.500" y2="5"/><line x1="16.500" x2="16.500" y1="2.500" y2="5"/></g></svg>
</div>
<a class="t" id="t110" style="left:20.75px;top:222.05px;transform:scaleX(0.925);font-size:11.6px;color:#1c3674;">Voir toutes les tâches (24)</a>
<div class="btn" style="left:152.95px;top:217.75px;width:115px;height:21.5px;border-radius:5px;">
<span class="t" id="t111" style="left:8.3px;top:4.3px;transform:scaleX(0.9207);font-size:11.6px;color:#fff;">Créer nouvelle tâche</span>
</div>
</section>
<section class="card" style="left:1077.25px;top:230.25px;width:281.25px;height:109.25px;">
<h2 class="t" id="t112" style="left:11.75px;top:10.75px;transform:scaleX(0.8542);font-size:11.6px;font-weight:700;">CLIENTS À RISQUE</h2>
<span class="t" id="t113" style="left:108.25px;top:10.75px;transform:scaleX(0.9212);font-size:11.6px;">(23)</span>
<div class="row" style="left:10.75px;top:32.55px;width:260px;height:15px;">
<div class="b" style="left:0.2px;top:3.2px;width:7px;height:7px;background:#f0861e;border-radius:50%;"></div>
<b class="t" id="t114" style="left:13.2px;top:1.8px;transform:scaleX(0.8186);font-size:11.8px;font-weight:700;">ABC Solutions</b>
<span class="t" id="t115" style="left:83.9px;top:1.8px;transform:scaleX(0.9113);font-size:11.8px;">(Aucune activité 45 jours)</span>
</div>
<div class="row" style="left:10.75px;top:51.05px;width:260px;height:15px;">
<div class="b" style="left:0.2px;top:3.2px;width:7px;height:7px;background:#f0861e;border-radius:50%;"></div>
<b class="t" id="t116" style="left:13.2px;top:1.8px;transform:scaleX(0.8335);font-size:11.8px;font-weight:700;">XYZ Corp</b>
<span class="t" id="t117" style="left:61.1px;top:1.8px;transform:scaleX(0.9001);font-size:11.8px;">(Contrat expire 15 jours)</span>
</div>
<div class="row" style="left:10.75px;top:69.95px;width:260px;height:15px;">
<div class="b" style="left:0.2px;top:3.2px;width:7px;height:7px;background:#f7d12e;border-radius:50%;"></div>
<b class="t" id="t118" style="left:13.2px;top:1.8px;transform:scaleX(0.8359);font-size:11.8px;font-weight:700;">TechInno</b>
<span class="t" id="t119" style="left:59.4px;top:1.8px;transform:scaleX(0.9036);font-size:11.8px;">(Satisfaction en baisse)</span>
</div>
<a class="t" id="t120" style="left:11.75px;top:90.55px;transform:scaleX(0.9281);font-size:11.5px;color:#1c3674;">Voir tous les clients à risque</a>
</section>
<section class="card" style="left:1077.25px;top:350.25px;width:281.25px;height:131.25px;">
<h2 class="t" id="t121" style="left:11.75px;top:11.45px;transform:scaleX(0.8872);font-size:11.4px;"><b>PROCHAINS RENDEZ-VOUS</b></h2>
<span class="t" id="t122" style="left:11.75px;top:28.75px;transform:scaleX(0.82);font-size:12.2px;font-weight:700;">Today</span>
<span class="t" id="t123" style="left:99.25px;top:28.75px;transform:scaleX(0.806);font-size:12.2px;font-weight:700;">Tomorrow</span>
<span class="t" id="t124" style="left:186.25px;top:28.75px;transform:scaleX(0.8241);font-size:12.2px;font-weight:700;">This Week</span>
<div class="b" style="left:11.25px;top:44.75px;width:82.4px;height:49px;background:#fff;border:1px solid #dfe2e7;border-left:3px solid #1b3694;border-radius:4px;">
<span class="t" id="t125" style="left:4.5px;top:3.5px;transform:scaleX(0.9174);font-size:8.4px;color:#1a1a1a;-webkit-text-stroke:.5px currentColor;">Taal, 14:00</span>
<span class="t" id="t126" style="left:4.5px;top:15px;transform:scaleX(0.9736);font-size:8.4px;color:#1a1a1a;-webkit-text-stroke:.5px currentColor;">Appel avn corper...</span>
<span class="t" id="t127" style="left:4.5px;top:25.8px;transform:scaleX(0.8864);font-size:8.4px;color:#666;-webkit-text-stroke:.25px currentColor;">2 inin ago</span>
</div>
<div class="b" style="left:98.35px;top:44.75px;width:82.4px;height:49px;background:#fff;border:1px solid #dfe2e7;border-left:3px solid #7c3aed;border-radius:4px;">
<span class="t" id="t128" style="left:5px;top:4px;transform:scaleX(0.9616);font-size:8.4px;color:#1a1a1a;-webkit-text-stroke:.5px currentColor;">Réunion propositi...</span>
<span class="t" id="t129" style="left:5px;top:15.6px;transform:scaleX(0.9221);font-size:8.4px;color:#666;-webkit-text-stroke:.25px currentColor;">18:08 – 23 main</span>
</div>
<div class="b" style="left:185.75px;top:44.75px;width:83px;height:49px;background:#fff;border:1px solid #dfe2e7;border-left:3px solid #4a80c8;border-radius:4px;">
<span class="t" id="t130" style="left:4.7px;top:3.5px;transform:scaleX(0.9052);font-size:8.4px;color:#1a1a1a;-webkit-text-stroke:.5px currentColor;">Tonk 16:00</span>
<span class="t" id="t131" style="left:4.7px;top:12.6px;transform:scaleX(0.921);font-size:8.4px;color:#1a1a1a;-webkit-text-stroke:.5px currentColor;">Kevinsax</span>
<span class="t" id="t132" style="left:4.7px;top:24.3px;transform:scaleX(0.9444);font-size:8.4px;color:#1a1a1a;-webkit-text-stroke:.5px currentColor;">Neus ooess st te ...</span>
<span class="t" id="t133" style="left:4.7px;top:35.3px;transform:scaleX(0.9166);font-size:8.4px;color:#666;-webkit-text-stroke:.25px currentColor;">2 inin ago</span>
</div>
<a class="t" id="t134" style="left:45.95px;top:105.45px;transform:scaleX(0.9293);font-size:11.6px;color:#1c3674;">Voir calendrier complet</a>
<div class="btn" style="left:162.85px;top:100.55px;width:106px;height:21.6px;border-radius:5px;">
<span class="t" id="t135" style="left:7.6px;top:4.9px;transform:scaleX(0.9278);font-size:11.6px;color:#fff;">Ajouter événement</span>
</div>
</section>
<section class="card" style="left:17.25px;top:492.75px;width:432.25px;height:172.75px;">
<h2 class="t" id="t136" style="left:11.25px;top:10.95px;transform:scaleX(0.8183);font-size:12px;font-weight:700;">ÉVOLUTION DU CHIFFRE D'AFFAIRES</h2>
<span class="t" id="t137" style="left:194.75px;top:10.95px;transform:scaleX(0.8858);font-size:12px;">(CA mensuel - 6 derniers mois)</span>
<svg class="b" style="left:51.75px;top:36.25px;" width="370" height="115" viewBox="0 0 370 115"><line x1="7" y1="5.4" x2="363" y2="5.4" stroke="#e6e7e9" stroke-width="1"/><line x1="7" y1="47.4" x2="363" y2="47.4" stroke="#e6e7e9" stroke-width="1"/><line x1="7" y1="68.4" x2="363" y2="68.4" stroke="#e6e7e9" stroke-width="1"/><line x1="7" y1="89.4" x2="363" y2="89.4" stroke="#e6e7e9" stroke-width="1"/><line x1="7" y1="110.4" x2="363" y2="110.4" stroke="#dcdde0" stroke-width="1"/><line x1="7" y1="5.4" x2="7" y2="110.4" stroke="#e3e4e6" stroke-width="1"/><path d="M19 110.4V66.2a1.500 1.500 0 0 1 1.500 -1.500H52.7a1.500 1.500 0 0 1 1.500 1.500V110.4Z" fill="#1a3599"/><path d="M78.3 110.4V57.2a1.500 1.500 0 0 1 1.500 -1.500H112.3a1.500 1.500 0 0 1 1.500 1.500V110.4Z" fill="#1a3599"/><path d="M137.5 110.4V49.1a1.500 1.500 0 0 1 1.500 -1.500H171.5a1.500 1.500 0 0 1 1.500 1.500V110.4Z" fill="#1a3599"/><path d="M196.9 110.4V39.8a1.500 1.500 0 0 1 1.500 -1.500H230.9a1.500 1.500 0 0 1 1.500 1.500V110.4Z" fill="#1a3599"/><path d="M256.5 110.4V30.5a1.500 1.500 0 0 1 1.500 -1.500H290.2a1.500 1.500 0 0 1 1.500 1.500V110.4Z" fill="#1a3599"/><path d="M315.9 110.4V19.5a1.500 1.500 0 0 1 1.500 -1.500H349.7a1.500 1.500 0 0 1 1.500 1.500V110.4Z" fill="#1a3599"/><line x1="7" y1="26.5" x2="363" y2="26.5" stroke="#4f9a6c" stroke-width="1.200" opacity="0.900"/></svg>
<span class="t" id="t138" style="left:10.45px;top:38.15px;transform:scaleX(0.9199);font-size:9.2px;-webkit-text-stroke:.25px currentColor;">€1,500,000</span>
<span class="t" id="t139" style="left:10.45px;top:59.15px;transform:scaleX(0.9199);font-size:9.2px;-webkit-text-stroke:.25px currentColor;">€1,000,000</span>
<span class="t" id="t140" style="left:16.25px;top:80.15px;transform:scaleX(0.9523);font-size:9.2px;-webkit-text-stroke:.25px currentColor;">9500,000</span>
<span class="t" id="t141" style="left:16.25px;top:101.15px;transform:scaleX(0.9523);font-size:9.2px;-webkit-text-stroke:.25px currentColor;">€000,000</span>
<span class="t" id="t142" style="left:16.25px;top:122.15px;transform:scaleX(0.9523);font-size:9.2px;-webkit-text-stroke:.25px currentColor;">€300,000</span>
<span class="t" id="t143" style="left:47.75px;top:143.15px;transform:scaleX(0.9756);font-size:9.2px;-webkit-text-stroke:.25px currentColor;">0</span>
<span class="t" id="t144" style="left:63.75px;top:50.65px;transform:scaleX(0.8633);font-size:9.9px;-webkit-text-stroke:.25px currentColor;">Target</span>
<span class="t" id="t145" style="left:77.35px;top:150.95px;transform:scaleX(0.9825);font-size:9.4px;-webkit-text-stroke:.25px currentColor;">juillet</span>
<span class="t" id="t146" style="left:140.15px;top:150.95px;transform:scaleX(0.839);font-size:9.4px;-webkit-text-stroke:.25px currentColor;">aluil</span>
<span class="t" id="t147" style="left:198.3px;top:150.95px;transform:scaleX(0.9304);font-size:9.4px;-webkit-text-stroke:.25px currentColor;">sept</span>
<span class="t" id="t148" style="left:259.8px;top:150.95px;font-size:9.4px;-webkit-text-stroke:.25px currentColor;">ect</span>
<span class="t" id="t149" style="left:318.45px;top:150.95px;transform:scaleX(0.9256);font-size:9.4px;-webkit-text-stroke:.25px currentColor;">nov</span>
<span class="t" id="t150" style="left:377.55px;top:150.95px;transform:scaleX(0.8997);font-size:9.4px;-webkit-text-stroke:.25px currentColor;">Déc</span>
</section>
<section class="card" style="left:460.25px;top:492.75px;width:224.25px;height:172.75px;">
<h2 class="t" id="t151" style="left:11.55px;top:10.95px;transform:scaleX(0.8224);font-size:12px;"><b>RÉPARTITION DES CLIENTS PAR SECTEUR</b></h2>
<svg class="b" style="left:24.75px;top:35.25px;" width="122" height="122" viewBox="0 0 122 122"><path d="M60.4 2.2A58.2 58.2 0 0 1 106.88 95.43L83.56 77.85A29 29 0 0 0 60.4 31.4Z" fill="#16308f" stroke="#fff" stroke-width="1.200" stroke-linejoin="round"/><path d="M106.88 95.43A58.2 58.2 0 0 1 23.54 105.44L42.03 82.84A29 29 0 0 0 83.56 77.85Z" fill="#2e3fb3" stroke="#fff" stroke-width="1.200" stroke-linejoin="round"/><path d="M23.54 105.44A58.2 58.2 0 0 1 3.93 46.32L32.26 53.38A29 29 0 0 0 42.03 82.84Z" fill="#7a36e8" stroke="#fff" stroke-width="1.200" stroke-linejoin="round"/><path d="M3.93 46.32A58.2 58.2 0 0 1 26.19 13.32L43.35 36.94A29 29 0 0 0 32.26 53.38Z" fill="#b07df6" stroke="#fff" stroke-width="1.200" stroke-linejoin="round"/><path d="M26.19 13.32A58.2 58.2 0 0 1 60.4 2.2L60.4 31.4A29 29 0 0 0 43.35 36.94Z" fill="#cccccc" stroke="#fff" stroke-width="1.200" stroke-linejoin="round"/></svg>
<span class="t" id="t152" style="left:115.55px;top:73.25px;transform:scaleX(0.9244);font-size:9.2px;color:#fff;-webkit-text-stroke:.25px currentColor;">36%</span>
<span class="t" id="t153" style="left:81.85px;top:135.45px;transform:scaleX(0.9244);font-size:9.2px;color:#fff;-webkit-text-stroke:.25px currentColor;">25%</span>
<span class="t" id="t154" style="left:35.8px;top:105.25px;transform:scaleX(0.8972);font-size:9.2px;color:#fff;-webkit-text-stroke:.25px currentColor;">12%</span>
<span class="t" id="t155" style="left:42.75px;top:67.75px;transform:scaleX(0.9035);font-size:9.2px;color:#fff;-webkit-text-stroke:.25px currentColor;">8%</span>
<span class="t" id="t156" style="left:65.55px;top:50.25px;transform:scaleX(0.9035);font-size:9.2px;color:#333;-webkit-text-stroke:.25px currentColor;">8%</span>
<div class="b" style="left:154.95px;top:61.45px;width:9.3px;height:9.3px;background:#16308f;border-radius:50%;"></div>
<span class="t" id="t157" style="left:168.05px;top:61.35px;transform:scaleX(0.9107);font-size:9.7px;-webkit-text-stroke:.25px currentColor;">Technolegie</span>
<div class="b" style="left:154.95px;top:76.05px;width:9.3px;height:9.3px;background:#2e3fb3;border-radius:50%;"></div>
<span class="t" id="t158" style="left:168.05px;top:75.95px;transform:scaleX(0.9096);font-size:9.7px;-webkit-text-stroke:.25px currentColor;">Ssrvices</span>
<div class="b" style="left:154.95px;top:90.65px;width:9.3px;height:9.3px;background:#7a36e8;border-radius:50%;"></div>
<span class="t" id="t159" style="left:168.05px;top:90.55px;transform:scaleX(0.8865);font-size:9.7px;-webkit-text-stroke:.25px currentColor;">Commerce</span>
<div class="b" style="left:154.95px;top:105.25px;width:9.3px;height:9.3px;background:#b07df6;border-radius:50%;"></div>
<span class="t" id="t160" style="left:168.05px;top:105.15px;transform:scaleX(0.9124);font-size:9.7px;-webkit-text-stroke:.25px currentColor;">Industrie</span>
<div class="b" style="left:154.95px;top:119.85px;width:9.3px;height:9.3px;background:#cccccc;border-radius:50%;"></div>
<span class="t" id="t161" style="left:168.05px;top:119.75px;transform:scaleX(0.8964);font-size:9.7px;-webkit-text-stroke:.25px currentColor;">Autres</span>
</section>
<section class="card" style="left:695.25px;top:492.75px;width:434.75px;height:172.75px;">
<h2 class="t" id="t162" style="left:12.05px;top:10.95px;transform:scaleX(0.8232);font-size:12px;"><b>PERFORMANCE DE L'ÉQUIPE - Top 5</b></h2>
<div class="b" style="left:11.75px;top:32.25px;width:410px;height:21.4px;background:#eef0f5;border-radius:3px;"></div>
<div class="row" style="left:11.75px;top:32.25px;width:410px;height:21.4px;">
<span class="t" id="t163" style="left:5px;top:5.8px;transform:scaleX(0.8533);font-size:11.8px;font-weight:700;-webkit-text-stroke:.2px currentColor;">1</span>
<svg class="b" style="left:24.6px;top:1.6px;" width="18" height="18" viewBox="0 0 24 24"><defs><clipPath id="ct0"><circle cx="12" cy="12" r="12"/></clipPath><radialGradient id="gt0" cx="0.5" cy="0.4" r="0.7"><stop offset="0" stop-color="#c9c6c3"/><stop offset="1" stop-color="#c9c6c3"/></radialGradient></defs><g clip-path="url(#ct0)"><rect width="24" height="24" fill="url(#gt0)"/><path d="M4.800 23C3.600 14 4.600 4 12 3.400C19.400 4 20.400 14 19.200 23Z" fill="#3a2418"/><path d="M2 25c0-5.500 4.500-7.400 10-7.400s10 1.900 10 7.400z" fill="#4a3a33"/><path d="M10 14.500h4v3.300l-2 1.700-2-1.700z" fill="#d9a98c"/><ellipse cx="12" cy="10.600" rx="4.100" ry="5.100" fill="#d9a98c"/><path d="M7.500 11C7.300 6.500 9.200 4.800 12 4.800S16.700 6.500 16.500 11C16 8.200 14.300 7 12 7S8 8.200 7.500 11Z" fill="#3a2418"/><ellipse cx="10.400" cy="10.200" rx="0.550" ry="0.400" fill="#3a2a24" opacity="0.700"/><ellipse cx="13.600" cy="10.200" rx="0.550" ry="0.400" fill="#3a2a24" opacity="0.700"/></g></svg>
<span class="t" id="t164" style="left:50px;top:4.9px;transform:scaleX(0.9047);font-size:11.7px;">Marie Dubois</span>
<span class="t" id="t165" style="left:248px;top:4.9px;transform:scaleX(0.8732);font-size:11.7px;">12 deals</span>
<span class="t" id="t166" style="left:328px;top:4.9px;transform:scaleX(0.9436);font-size:11.7px;">€485,000</span>
<svg class="b" style="left:386.8px;top:2.2px;" width="16.6" height="16.6" viewBox="0 0 16 16"><path d="M4 1.500H12V6A4 4 0 0 1 4 6Z" fill="#e8a21c"/><path d="M5.200 1.500H8V9.800A4 4 0 0 1 5.200 6Z" fill="#f6c744" opacity="0.800"/><path d="M4 2.800H1.500C1.500 5.800 2.800 7 4.800 7.300M12 2.800H14.500C14.500 5.800 13.200 7 11.200 7.300" fill="none" stroke="#e8a21c" stroke-width="1.200"/><rect x="7.200" y="9.500" width="1.600" height="3" fill="#d18a12"/><rect x="4.800" y="12.200" width="6.400" height="2.300" rx="0.500" fill="#b5651d"/></svg>
</div>
<div class="row" style="left:11.75px;top:53.65px;width:410px;height:21.4px;">
<span class="t" id="t167" style="left:5px;top:5.8px;transform:scaleX(0.8533);font-size:11.8px;font-weight:700;-webkit-text-stroke:.2px currentColor;">2</span>
<svg class="b" style="left:24.6px;top:1.6px;" width="18" height="18" viewBox="0 0 24 24"><defs><clipPath id="ct1"><circle cx="12" cy="12" r="12"/></clipPath><radialGradient id="gt1" cx="0.5" cy="0.4" r="0.7"><stop offset="0" stop-color="#9aa3aa"/><stop offset="1" stop-color="#9aa3aa"/></radialGradient></defs><g clip-path="url(#ct1)"><rect width="24" height="24" fill="url(#gt1)"/><path d="M2 25c0-5.500 4.500-7.400 10-7.400s10 1.900 10 7.400z" fill="#7d8a92"/><path d="M10 14.500h4v3.300l-2 1.700-2-1.700z" fill="#c8997f"/><ellipse cx="12" cy="10.600" rx="4.100" ry="5.100" fill="#c8997f"/><path d="M7.700 10.200C7 5.600 9.300 4.200 12 4.200S17 5.600 16.300 10.200C16 8 14.600 7 12 7S8 8 7.700 10.200Z" fill="#3b2a22"/><path d="M7.900 11C8.100 15 10 16 12 16S15.900 15 16.100 11C15.400 13.200 14 13.500 12 13.500S8.600 13.200 7.900 11Z" fill="#4a362c"/><ellipse cx="10.400" cy="10.200" rx="0.550" ry="0.400" fill="#3a2a24" opacity="0.700"/><ellipse cx="13.600" cy="10.200" rx="0.550" ry="0.400" fill="#3a2a24" opacity="0.700"/></g></svg>
<span class="t" id="t168" style="left:50px;top:4.9px;transform:scaleX(0.8867);font-size:11.7px;">Pierre Bernard</span>
<span class="t" id="t169" style="left:248px;top:4.9px;transform:scaleX(0.8732);font-size:11.7px;">12 deals</span>
<span class="t" id="t170" style="left:328px;top:4.9px;transform:scaleX(0.9436);font-size:11.7px;">€485,000</span>
</div>
<div class="row" style="left:11.75px;top:75.05px;width:410px;height:21.4px;">
<span class="t" id="t171" style="left:5px;top:5.8px;transform:scaleX(0.8533);font-size:11.8px;font-weight:700;-webkit-text-stroke:.2px currentColor;">3</span>
<svg class="b" style="left:24.6px;top:1.6px;" width="18" height="18" viewBox="0 0 24 24"><defs><clipPath id="ct2"><circle cx="12" cy="12" r="12"/></clipPath><radialGradient id="gt2" cx="0.5" cy="0.4" r="0.7"><stop offset="0" stop-color="#e0a04a"/><stop offset="1" stop-color="#e0a04a"/></radialGradient></defs><g clip-path="url(#ct2)"><rect width="24" height="24" fill="url(#gt2)"/><path d="M4.800 23C3.600 14 4.600 4 12 3.400C19.400 4 20.400 14 19.200 23Z" fill="#2e1a12"/><path d="M2 25c0-5.500 4.500-7.400 10-7.400s10 1.900 10 7.400z" fill="#e8e0d8"/><path d="M10 14.500h4v3.300l-2 1.700-2-1.700z" fill="#d9a78c"/><ellipse cx="12" cy="10.600" rx="4.100" ry="5.100" fill="#d9a78c"/><path d="M7.500 11C7.300 6.500 9.200 4.800 12 4.800S16.700 6.500 16.500 11C16 8.200 14.300 7 12 7S8 8.200 7.500 11Z" fill="#2e1a12"/><ellipse cx="10.400" cy="10.200" rx="0.550" ry="0.400" fill="#3a2a24" opacity="0.700"/><ellipse cx="13.600" cy="10.200" rx="0.550" ry="0.400" fill="#3a2a24" opacity="0.700"/></g></svg>
<span class="t" id="t172" style="left:50px;top:4.9px;transform:scaleX(0.9011);font-size:11.7px;">Julie Moreau</span>
<span class="t" id="t173" style="left:252.6px;top:4.9px;transform:scaleX(0.9018);font-size:11.7px;">8 deals</span>
<span class="t" id="t174" style="left:329.7px;top:4.9px;transform:scaleX(0.9087);font-size:11.7px;">€120,000</span>
</div>
<div class="row" style="left:11.75px;top:96.45px;width:410px;height:21.4px;">
<span class="t" id="t175" style="left:5px;top:5.8px;transform:scaleX(0.8533);font-size:11.8px;font-weight:700;-webkit-text-stroke:.2px currentColor;">4</span>
<svg class="b" style="left:24.6px;top:1.6px;" width="18" height="18" viewBox="0 0 24 24"><defs><clipPath id="ct3"><circle cx="12" cy="12" r="12"/></clipPath><radialGradient id="gt3" cx="0.5" cy="0.4" r="0.7"><stop offset="0" stop-color="#a9c0cc"/><stop offset="1" stop-color="#a9c0cc"/></radialGradient></defs><g clip-path="url(#ct3)"><rect width="24" height="24" fill="url(#gt3)"/><path d="M2 25c0-5.500 4.500-7.400 10-7.400s10 1.900 10 7.400z" fill="#dfe6ea"/><path d="M10 14.500h4v3.300l-2 1.700-2-1.700z" fill="#d4a68c"/><ellipse cx="12" cy="10.600" rx="4.100" ry="5.100" fill="#d4a68c"/><path d="M7.700 10.200C7 5.600 9.300 4.200 12 4.200S17 5.600 16.300 10.200C16 8 14.600 7 12 7S8 8 7.700 10.200Z" fill="#4a3a30"/><path d="M7.900 11C8.100 15 10 16 12 16S15.900 15 16.100 11C15.400 13.200 14 13.500 12 13.500S8.600 13.200 7.900 11Z" fill="#6a5244"/><ellipse cx="10.400" cy="10.200" rx="0.550" ry="0.400" fill="#3a2a24" opacity="0.700"/><ellipse cx="13.600" cy="10.200" rx="0.550" ry="0.400" fill="#3a2a24" opacity="0.700"/></g></svg>
<span class="t" id="t176" style="left:50px;top:4.9px;transform:scaleX(0.9047);font-size:11.7px;">Thomas Petit</span>
<span class="t" id="t177" style="left:252.6px;top:4.9px;transform:scaleX(0.9018);font-size:11.7px;">6 deals</span>
<span class="t" id="t178" style="left:329.7px;top:4.9px;transform:scaleX(0.9087);font-size:11.7px;">€180,000</span>
</div>
<div class="row" style="left:11.75px;top:117.85px;width:410px;height:21.4px;">
<span class="t" id="t179" style="left:5px;top:5.8px;transform:scaleX(0.8533);font-size:11.8px;font-weight:700;-webkit-text-stroke:.2px currentColor;">5</span>
<svg class="b" style="left:24.6px;top:1.6px;" width="18" height="18" viewBox="0 0 24 24"><defs><clipPath id="ct4"><circle cx="12" cy="12" r="12"/></clipPath><radialGradient id="gt4" cx="0.5" cy="0.4" r="0.7"><stop offset="0" stop-color="#b0a49c"/><stop offset="1" stop-color="#b0a49c"/></radialGradient></defs><g clip-path="url(#ct4)"><rect width="24" height="24" fill="url(#gt4)"/><path d="M4.800 23C3.600 14 4.600 4 12 3.400C19.400 4 20.400 14 19.200 23Z" fill="#6e3a28"/><path d="M2 25c0-5.500 4.500-7.400 10-7.400s10 1.900 10 7.400z" fill="#d9a088"/><path d="M10 14.500h4v3.300l-2 1.700-2-1.700z" fill="#dca78e"/><ellipse cx="12" cy="10.600" rx="4.100" ry="5.100" fill="#dca78e"/><path d="M7.500 11C7.300 6.500 9.200 4.800 12 4.800S16.700 6.500 16.500 11C16 8.200 14.300 7 12 7S8 8.200 7.500 11Z" fill="#6e3a28"/><ellipse cx="10.400" cy="10.200" rx="0.550" ry="0.400" fill="#3a2a24" opacity="0.700"/><ellipse cx="13.600" cy="10.200" rx="0.550" ry="0.400" fill="#3a2a24" opacity="0.700"/></g></svg>
<span class="t" id="t180" style="left:50px;top:4.9px;transform:scaleX(0.9068);font-size:11.7px;">Sophie Martin</span>
<span class="t" id="t181" style="left:252.6px;top:4.9px;transform:scaleX(0.9018);font-size:11.7px;">3 deals</span>
<span class="t" id="t182" style="left:329.7px;top:4.9px;transform:scaleX(0.9087);font-size:11.7px;">€100,000</span>
</div>
<a class="t" id="t183" style="left:305.25px;top:146.45px;transform:scaleX(0.9271);font-size:11.6px;color:#1c3674;">Voir classement complet</a>
</section>
<section class="card" style="left:1141.25px;top:492.75px;width:217.25px;height:172.75px;">
<h2 class="t" id="t184" style="left:11.85px;top:11.15px;transform:scaleX(0.8335);font-size:12px;"><b>OBJECTIFS DU MOIS</b></h2>
<span class="t" id="t185" style="left:11.75px;top:32.15px;transform:scaleX(0.8749);font-size:11.8px;">Revenue mensuel</span>
<span class="t" id="t186" style="left:137.25px;top:32.15px;transform:scaleX(0.8858);font-size:11.8px;">92,5% / Target</span>
<div class="b" style="left:11.75px;top:47.55px;width:192.7px;height:6.8px;background:#e4e6ea;border-radius:3.400px;">
<div class="b" style="left:0px;top:0px;width:177px;height:6.8px;background:linear-gradient(90deg,#0f2670,#1a3599);border-radius:3.400px;"></div>
</div>
<span class="t" id="t187" style="left:11.75px;top:65.7px;transform:scaleX(0.8982);font-size:11.8px;">Nouveaux clients</span>
<span class="t" id="t188" style="left:154.45px;top:65.7px;transform:scaleX(0.8762);font-size:11.8px;">92% / 90%</span>
<div class="b" style="left:11.75px;top:81.1px;width:192.7px;height:6.8px;background:#e4e6ea;border-radius:3.400px;">
<div class="b" style="left:0px;top:0px;width:173.7px;height:6.8px;background:linear-gradient(90deg,#7530e0,#7a34e8);border-radius:3.400px;"></div>
</div>
<span class="t" id="t189" style="left:11.75px;top:99.25px;transform:scaleX(0.8806);font-size:11.8px;">Deals fermés</span>
<span class="t" id="t190" style="left:154.45px;top:99.25px;transform:scaleX(0.8762);font-size:11.8px;">80% / 80%</span>
<div class="b" style="left:11.75px;top:114.65px;width:192.7px;height:6.8px;background:#e4e6ea;border-radius:3.400px;">
<div class="b" style="left:0px;top:0px;width:152.5px;height:6.8px;background:linear-gradient(90deg,#2a5cc6,#2f60c8);border-radius:3.400px;"></div>
</div>
<span class="t" id="t191" style="left:11.75px;top:132.8px;transform:scaleX(0.8962);font-size:11.8px;">Taux de conversion</span>
<span class="t" id="t192" style="left:157.45px;top:132.8px;transform:scaleX(0.8237);font-size:11.8px;">91% / 91%</span>
<div class="b" style="left:11.75px;top:148.2px;width:192.7px;height:6.8px;background:#e4e6ea;border-radius:3.400px;">
<div class="b" style="left:0px;top:0px;width:175.5px;height:6.8px;background:linear-gradient(90deg,#7530e0,#7a34e8);border-radius:3.400px;"></div>
</div>
</section>
</main>
<footer class="" style="left:0px;top:716px;width:1376px;height:52px;">
<div class="btn" style="left:296.4px;top:6.4px;width:187.9px;height:30.2px;background:#1b3694;">
<span class="t" id="t193" style="left:30.2px;top:8.5px;transform:scaleX(0.9199);font-size:14.9px;color:#fff;">Créer nouveau client</span>
</div>
<div class="btn" style="left:495.3px;top:6.4px;width:187px;height:30.2px;background:#1b3694;">
<span class="t" id="t194" style="left:33.6px;top:8.5px;transform:scaleX(0.9504);font-size:14.9px;color:#fff;">Ajouter opportunité</span>
</div>
<div class="btn" style="left:694px;top:6.4px;width:187px;height:30.2px;background:#1b3694;">
<span class="t" id="t195" style="left:44.5px;top:8.5px;transform:scaleX(0.9426);font-size:14.9px;color:#fff;">Planifier activité</span>
</div>
<div class="btn" style="left:892.6px;top:6.4px;width:187.4px;height:30.2px;background:#7b35e4;">
<span class="t" id="t196" style="left:44.4px;top:8.5px;transform:scaleX(0.9249);font-size:14.9px;color:#fff;">Générer rapport</span>
</div>
</footer>
</body>
</html>
